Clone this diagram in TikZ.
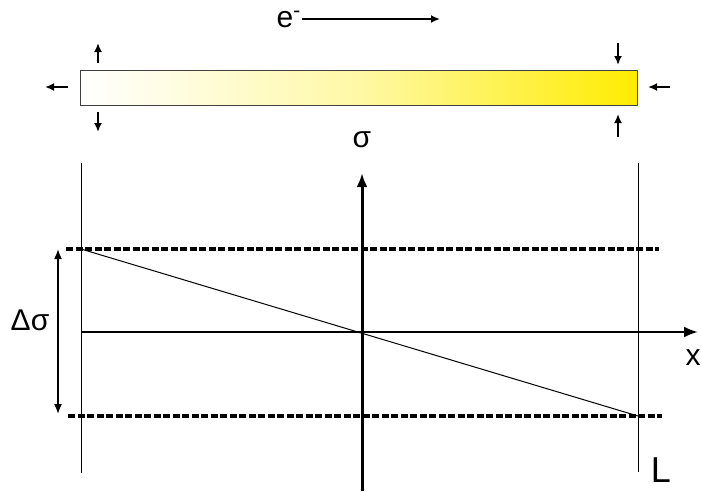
\documentclass[tikz,border=0pt]{standalone}
\usepackage{fontspec}
\setmainfont{Liberation Sans}
\usepackage{xcolor}
\usepackage{tikz}
\usetikzlibrary{arrows.meta,positioning,calc}
\definecolor{baryellow}{RGB}{255,236,0}
\tikzset{
  forcearrow/.style={-{Latex[length=9pt,width=8pt]}, draw=black, line width=1.8pt},
  axisarrow/.style={-{Latex[length=14pt,width=11pt]}, draw=black, line width=3pt},
  edgeline/.style={draw=black, line width=1pt},
  levelline/.style={draw=black, line width=4pt, dash pattern=on 7.3pt off 2.2pt},
  dimarrow/.style={{Latex[length=10pt,width=8pt]}-{Latex[length=10pt,width=8pt]}, draw=black, line width=1.6pt},
  axislabel/.style={inner sep=0pt, font=\fontsize{30}{36}\selectfont},
}

\begin{document}
\begin{tikzpicture}[x=1pt, y=-1pt]
  \useasboundingbox (0,0) rectangle (701,491);

  % Electron flow
  \node[axislabel, anchor=base east] (elec) at (301,27) {e\textsuperscript{-}};
  \coordinate (flowstart) at (302,19);
  \coordinate (flowend) at (440,19);
  \draw[forcearrow] (flowstart) -- (flowend);

  % Bar with gradient
  \node[draw=black!75, line width=1.2pt, minimum width=557pt, minimum height=35pt,
    inner sep=0pt, anchor=north west, left color=white, right color=baryellow,
    middle color=baryellow!35] (bar) at (80,70) {};

  % Forces on the ends (left: tension, right: compression)
  \coordinate (lu0) at (98,63);  \coordinate (lu1) at (98,43);
  \coordinate (ld0) at (98,112); \coordinate (ld1) at (98,132);
  \coordinate (ll0) at (68,87);  \coordinate (ll1) at (45,87);
  \coordinate (rd0) at (618,43); \coordinate (rd1) at (618,65);
  \coordinate (ru0) at (618,137); \coordinate (ru1) at (618,114);
  \coordinate (rl0) at (670,87); \coordinate (rl1) at (648,87);
  \draw[forcearrow] (lu0) -- (lu1);
  \draw[forcearrow] (ld0) -- (ld1);
  \draw[forcearrow] (ll0) -- (ll1);
  \draw[forcearrow] (rd0) -- (rd1);
  \draw[forcearrow] (ru0) -- (ru1);
  \draw[forcearrow] (rl0) -- (rl1);

  % Axes
  \coordinate (origin) at (362,332);
  \coordinate (ybot) at (362,491);
  \coordinate (ytop) at (362,173);
  \coordinate (xleft) at (81,332);
  \coordinate (xright) at (698,332);
  \draw[axisarrow] (ybot) -- (ytop);
  \draw[axisarrow, line width=2.3pt] (xleft) -- (xright);
  \node[axislabel] (sigma) at (362,140) {σ};
  \node[axislabel] (xlab) at (693,358) {x};

  % Bar ends
  \coordinate (lefttop) at (81,163);  \coordinate (leftbot) at (81,473);
  \coordinate (righttop) at (638,163); \coordinate (rightbot) at (638,472);
  \draw[edgeline] (lefttop) -- (leftbot);
  \draw[edgeline] (righttop) -- (rightbot);
  \node[axislabel, font=\fontsize{36}{40}\selectfont] (len) at (661,470) {L};

  % Stress levels
  \coordinate (hia) at (66,249);  \coordinate (hib) at (659,249);
  \coordinate (loa) at (68,416);  \coordinate (lob) at (662,416);
  \draw[levelline] (hia) -- (hib);
  \draw[levelline] (loa) -- (lob);
  \coordinate (shi) at (81,249); \coordinate (slo) at (638,416);
  \draw[edgeline] (shi) -- (slo);

  % Stress difference
  \coordinate (dtop) at (58,249); \coordinate (dbot) at (58,414);
  \draw[dimarrow] (dtop) -- (dbot);
  \node[axislabel] (dsig) at (30,320) {Δσ};

\end{tikzpicture}
\end{document}
